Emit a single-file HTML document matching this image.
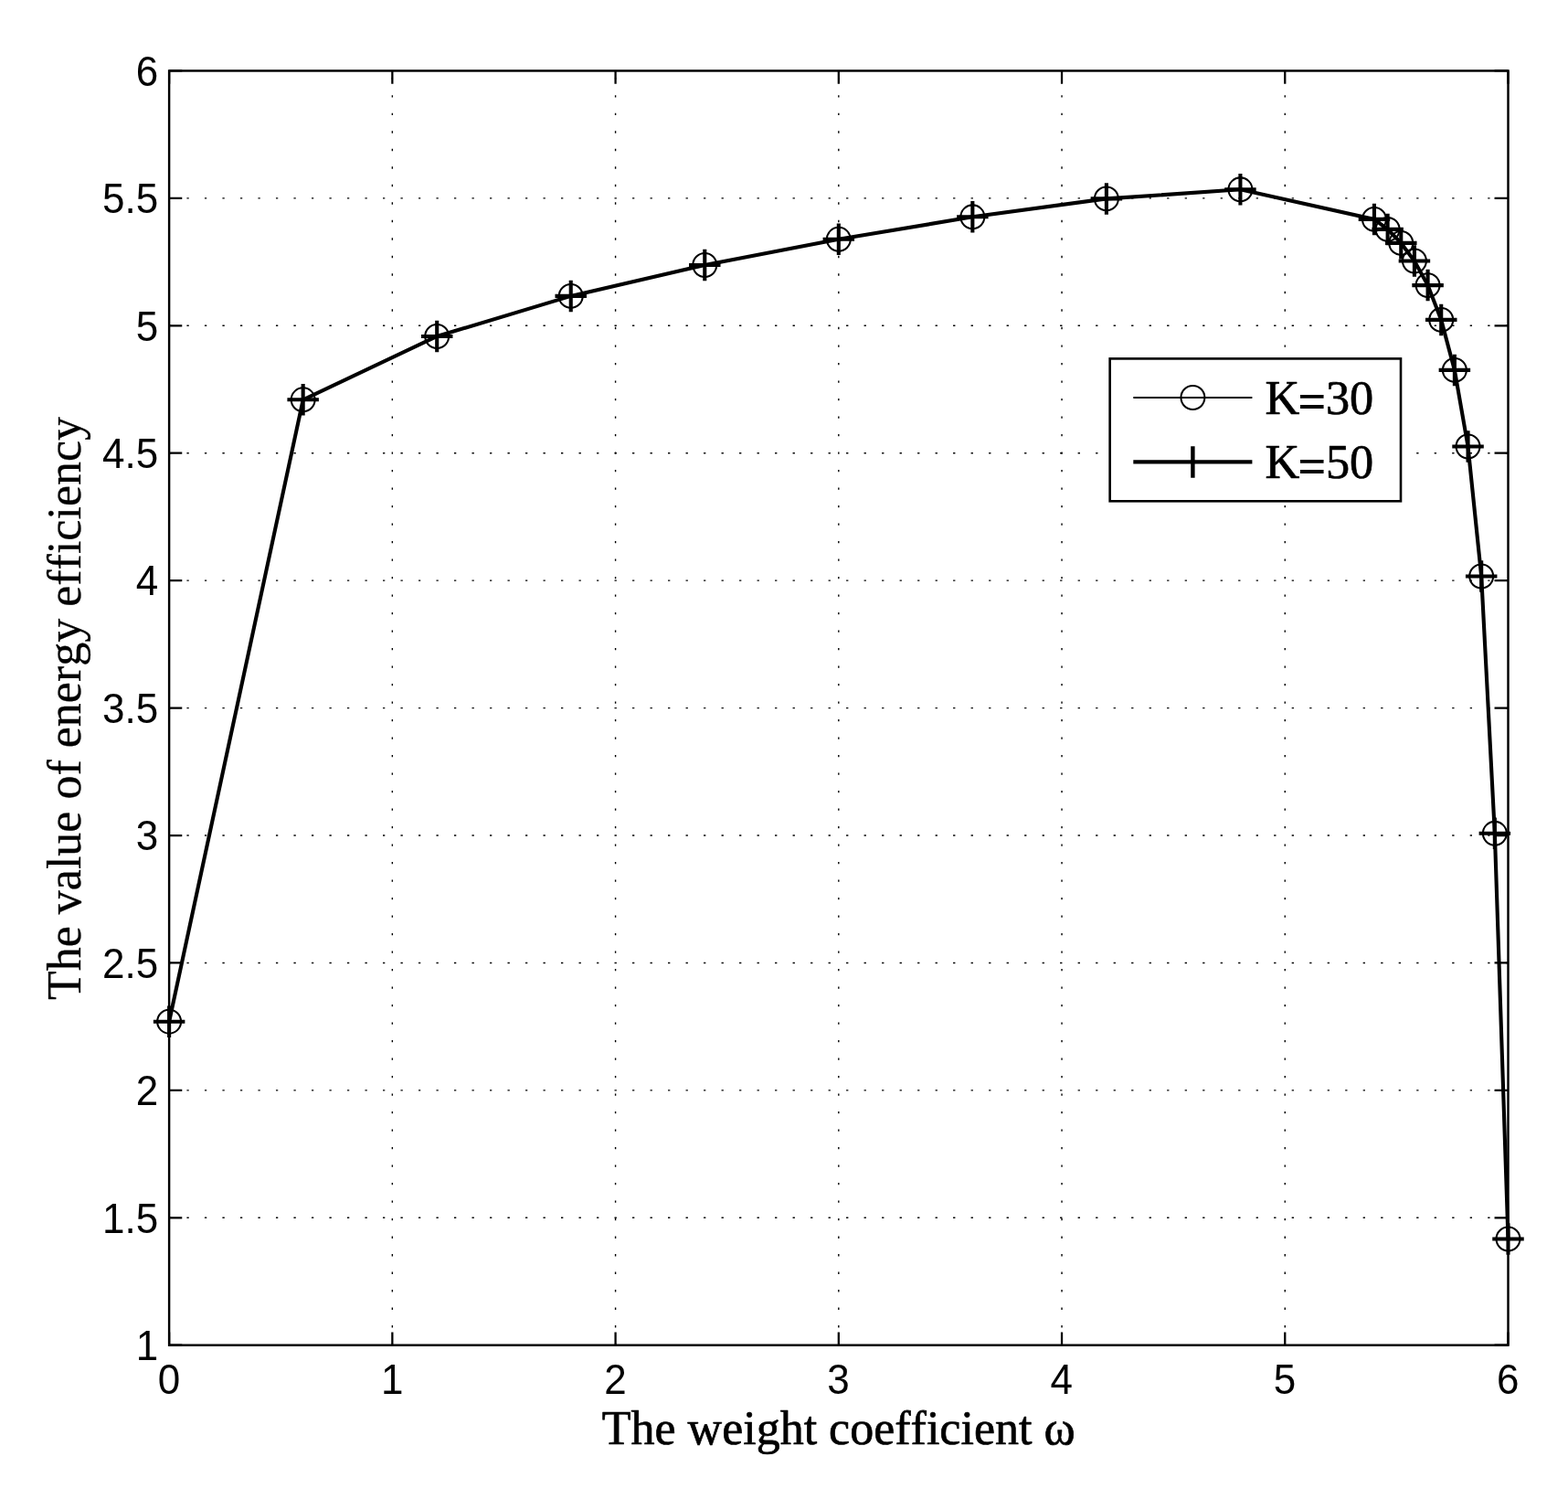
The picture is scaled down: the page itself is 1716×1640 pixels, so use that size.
<!DOCTYPE html>
<html lang="en"><head><meta charset="utf-8">
<title>The value of energy efficiency versus the weight coefficient</title>
<style>
html,body{margin:0;padding:0;background:#fff;}
body{width:1716px;height:1640px;overflow:hidden;}
svg{display:block;}
.tick{font-family:"Liberation Sans",Arial,Helvetica,sans-serif;font-size:44px;fill:#000;}
text{font-variant-ligatures:none;font-kerning:none;white-space:pre;}
.lab{font-family:"Liberation Serif","Times New Roman",Times,serif;font-size:52px;fill:#000;}
.leg{font-family:"Liberation Serif","Times New Roman",Times,serif;font-size:52.3px;fill:#000;}
.lab,.leg{stroke:#000;stroke-width:0.7px;stroke-linejoin:round;}
.ylab{stroke-width:0.3px;}
.eq{font-weight:bold;font-size:55px;stroke:none;}
</style></head><body>
<svg width="1716" height="1640" viewBox="0 0 1716 1640" role="img" aria-label="The value of energy efficiency versus the weight coefficient">
<rect x="0" y="0" width="1716" height="1640" fill="#fff"/>
<g fill="none" stroke="#000" stroke-width="1.4" stroke-dasharray="2.3 17.204" stroke-dashoffset="0.2">
<path d="M429.35 1471.7 V77.47"/>
<path d="M673.58 1471.7 V77.47"/>
<path d="M917.81 1471.7 V77.47"/>
<path d="M1162.04 1471.7 V77.47"/>
<path d="M1406.27 1471.7 V77.47"/>
<path d="M185.12 1332.28 H1650.5"/>
<path d="M185.12 1192.85 H1650.5"/>
<path d="M185.12 1053.43 H1650.5"/>
<path d="M185.12 914.01 H1650.5"/>
<path d="M185.12 774.59 H1650.5"/>
<path d="M185.12 635.16 H1650.5"/>
<path d="M185.12 495.74 H1650.5"/>
<path d="M185.12 356.32 H1650.5"/>
<path d="M185.12 216.89 H1650.5"/>
</g>
<rect x="185.12" y="77.47" width="1465.38" height="1394.23" fill="none" stroke="#000" stroke-width="2.45"/>
<g fill="none" stroke="#000" stroke-width="2.25">
<path d="M185.12 1471.7 v-14.25 M185.12 77.47 v14.25 M429.35 1471.7 v-14.25 M429.35 77.47 v14.25 M673.58 1471.7 v-14.25 M673.58 77.47 v14.25 M917.81 1471.7 v-14.25 M917.81 77.47 v14.25 M1162.04 1471.7 v-14.25 M1162.04 77.47 v14.25 M1406.27 1471.7 v-14.25 M1406.27 77.47 v14.25 M1650.5 1471.7 v-14.25 M1650.5 77.47 v14.25 M185.12 1471.7 h14.15 M1650.5 1471.7 h-14.95 M185.12 1332.28 h14.15 M1650.5 1332.28 h-14.95 M185.12 1192.85 h14.15 M1650.5 1192.85 h-14.95 M185.12 1053.43 h14.15 M1650.5 1053.43 h-14.95 M185.12 914.01 h14.15 M1650.5 914.01 h-14.95 M185.12 774.59 h14.15 M1650.5 774.59 h-14.95 M185.12 635.16 h14.15 M1650.5 635.16 h-14.95 M185.12 495.74 h14.15 M1650.5 495.74 h-14.95 M185.12 356.32 h14.15 M1650.5 356.32 h-14.95 M185.12 216.89 h14.15 M1650.5 216.89 h-14.95 M185.12 77.47 h14.15 M1650.5 77.47 h-14.95"/>
</g>
<g class="tick" text-anchor="middle">
<text transform="translate(184.92 1524.9) scale(1 1.035)">0</text>
<text transform="translate(429.15 1524.9) scale(1 1.035)">1</text>
<text transform="translate(673.38 1524.9) scale(1 1.035)">2</text>
<text transform="translate(917.61 1524.9) scale(1 1.035)">3</text>
<text transform="translate(1161.84 1524.9) scale(1 1.035)">4</text>
<text transform="translate(1406.07 1524.9) scale(1 1.035)">5</text>
<text transform="translate(1650.3 1524.9) scale(1 1.035)">6</text>
</g>
<g class="tick" text-anchor="end">
<text transform="translate(173.1 1488) scale(1 1.035)">1</text>
<text transform="translate(173.1 1348.58) scale(1 1.035)">1.5</text>
<text transform="translate(173.1 1209.15) scale(1 1.035)">2</text>
<text transform="translate(173.1 1069.73) scale(1 1.035)">2.5</text>
<text transform="translate(173.1 930.31) scale(1 1.035)">3</text>
<text transform="translate(173.1 790.88) scale(1 1.035)">3.5</text>
<text transform="translate(173.1 651.46) scale(1 1.035)">4</text>
<text transform="translate(173.1 512.04) scale(1 1.035)">4.5</text>
<text transform="translate(173.1 372.62) scale(1 1.035)">5</text>
<text transform="translate(173.1 233.19) scale(1 1.035)">5.5</text>
<text transform="translate(173.1 93.77) scale(1 1.035)">6</text>
</g>
<text class="lab" text-anchor="middle" transform="translate(917.7 1579.9) scale(1 1)">The weight coefficient ω</text>
<text class="lab ylab" text-anchor="middle" transform="translate(87.6 775) rotate(-90) scale(1 1)">The value of energy efficiency</text>
<polyline points="185.12,1117.7 331.66,437.3 478.2,368 624.73,323.9 771.27,290 917.81,261.8 1064.35,237.3 1210.89,217.4 1357.42,207.3 1503.96,239.9 1518.62,250.9 1533.27,265.9 1547.92,285.5 1562.58,312.1 1577.23,349.9 1591.88,404.9 1606.54,488.5 1621.19,630.5 1635.85,911.8 1650.5,1355.5" fill="none" stroke="#000" stroke-width="2.2" stroke-linejoin="miter"/>
<g fill="none" stroke="#000" stroke-width="2.05">
<circle cx="185.12" cy="1117.7" r="12.95"/>
<circle cx="331.66" cy="437.3" r="12.95"/>
<circle cx="478.2" cy="368" r="12.95"/>
<circle cx="624.73" cy="323.9" r="12.95"/>
<circle cx="771.27" cy="290" r="12.95"/>
<circle cx="917.81" cy="261.8" r="12.95"/>
<circle cx="1064.35" cy="237.3" r="12.95"/>
<circle cx="1210.89" cy="217.4" r="12.95"/>
<circle cx="1357.42" cy="207.3" r="12.95"/>
<circle cx="1503.96" cy="239.9" r="12.95"/>
<circle cx="1518.62" cy="250.9" r="12.95"/>
<circle cx="1533.27" cy="265.9" r="12.95"/>
<circle cx="1547.92" cy="285.5" r="12.95"/>
<circle cx="1562.58" cy="312.1" r="12.95"/>
<circle cx="1577.23" cy="349.9" r="12.95"/>
<circle cx="1591.88" cy="404.9" r="12.95"/>
<circle cx="1606.54" cy="488.5" r="12.95"/>
<circle cx="1621.19" cy="630.5" r="12.95"/>
<circle cx="1635.85" cy="911.8" r="12.95"/>
<circle cx="1650.5" cy="1355.5" r="12.95"/>
</g>
<polyline points="185.12,1117.7 331.66,437.3 478.2,368 624.73,323.9 771.27,290 917.81,261.8 1064.35,237.3 1210.89,217.4 1357.42,207.3 1503.96,239.9 1518.62,250.9 1533.27,265.9 1547.92,285.5 1562.58,312.1 1577.23,349.9 1591.88,404.9 1606.54,488.5 1621.19,630.5 1635.85,911.8 1650.5,1355.5" fill="none" stroke="#000" stroke-width="4.1" stroke-linejoin="miter"/>
<path d="M167.87 1117.7 h34.5 M185.12 1100.45 v34.5 M314.41 437.3 h34.5 M331.66 420.05 v34.5 M460.95 368 h34.5 M478.2 350.75 v34.5 M607.48 323.9 h34.5 M624.73 306.65 v34.5 M754.02 290 h34.5 M771.27 272.75 v34.5 M900.56 261.8 h34.5 M917.81 244.55 v34.5 M1047.1 237.3 h34.5 M1064.35 220.05 v34.5 M1193.64 217.4 h34.5 M1210.89 200.15 v34.5 M1340.17 207.3 h34.5 M1357.42 190.05 v34.5 M1486.71 239.9 h34.5 M1503.96 222.65 v34.5 M1501.37 250.9 h34.5 M1518.62 233.65 v34.5 M1516.02 265.9 h34.5 M1533.27 248.65 v34.5 M1530.67 285.5 h34.5 M1547.92 268.25 v34.5 M1545.33 312.1 h34.5 M1562.58 294.85 v34.5 M1559.98 349.9 h34.5 M1577.23 332.65 v34.5 M1574.63 404.9 h34.5 M1591.88 387.65 v34.5 M1589.29 488.5 h34.5 M1606.54 471.25 v34.5 M1603.94 630.5 h34.5 M1621.19 613.25 v34.5 M1618.6 911.8 h34.5 M1635.85 894.55 v34.5 M1633.25 1355.5 h34.5 M1650.5 1338.25 v34.5" fill="none" stroke="#000" stroke-width="4.1"/>
<rect x="1214.65" y="392.4" width="318.35" height="155.9" fill="#fff" stroke="#000" stroke-width="2.6"/>
<path d="M1240.3 435 H1370.4" fill="none" stroke="#000" stroke-width="2.2"/>
<circle cx="1305.4" cy="435" r="12.95" fill="none" stroke="#000" stroke-width="2.05"/>
<path d="M1240.3 505.4 H1370.4 M1305.4 488.15 v34.5" fill="none" stroke="#000" stroke-width="4.4"/>
<text class="leg" x="1384.5" y="452.6">K<tspan class="eq" x="1420.3" dy="4.8">=</tspan><tspan class="leg" x="1450.9" dy="-4.8">30</tspan></text>
<text class="leg" x="1384.5" y="523.3">K<tspan class="eq" x="1420.3" dy="4.8">=</tspan><tspan class="leg" x="1450.9" dy="-4.8">50</tspan></text>
</svg>
</body></html>
